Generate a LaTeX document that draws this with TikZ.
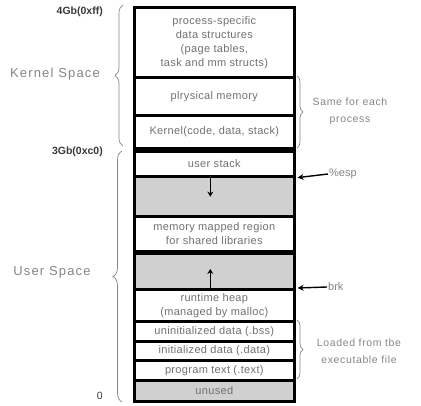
\documentclass[tikz,border=0pt]{standalone}
\usepackage{fontspec}
\setmainfont{Liberation Sans}
\usetikzlibrary{arrows.meta,decorations.pathreplacing}
\definecolor{segtext}{HTML}{707070}
\definecolor{sidetext}{HTML}{858585}
\definecolor{addrtext}{HTML}{3A3A3A}
\definecolor{gapfill}{HTML}{D0D0D0}
\begin{document}
\begin{tikzpicture}[x=1pt,y=-1pt,
  seg/.style={draw=black, line width=2.6pt, minimum width=160pt, inner sep=0pt,
    anchor=north west, align=center, text=segtext,
    font=\fontsize{11}{14}\selectfont\addfontfeatures{LetterSpace=3}},
  gap/.style={seg, fill=gapfill},
  addr/.style={anchor=east, inner sep=0pt, text=addrtext, font=\bfseries\fontsize{10.5}{12}\selectfont},
  region/.style={anchor=center, text=sidetext,
    font=\fontsize{13}{15}\selectfont\addfontfeatures{LetterSpace=9}},
  note/.style={anchor=center, align=center, text=sidetext,
    font=\fontsize{10.5}{17}\selectfont\addfontfeatures{LetterSpace=6}},
  reg/.style={anchor=west, inner sep=1pt, text=sidetext, font=\fontsize{11}{13}\selectfont},
  sbrace/.style={draw=sidetext, line width=0.7pt, decorate},
  ptr/.style={draw=black, line width=1.4pt, -{Stealth[length=6pt,width=6pt]}},
  inarrow/.style={draw=black, line width=1.6pt, -{Stealth[length=5pt,width=6pt]}}]
\useasboundingbox (0,0) rectangle (421,406);

% address-space segments, top to bottom
\node[seg, minimum height=70pt]  (ps)     at (133,6)   {process-specific\\data structures\\(page tables,\\task and mm structs)};
\node[seg, minimum height=38pt]  (phys)   at (133,76)  {plrysical memory};
\node[seg, minimum height=33pt]  (kern)   at (133,114) {Kernel(code, data, stack)};
\node[seg, minimum height=25pt]  (ustack) at (133,150) {user stack};
\node[gap, minimum height=40pt]  (gap1)   at (133,175) {};
\node[seg, minimum height=35pt]  (mmap)   at (133,215) {memory mapped region\\for shared libraries};
\node[gap, minimum height=38pt]  (gap2)   at (133,250) {};
\node[seg, minimum height=32pt]  (heap)   at (133,288) {runtime heap\\(managed by malloc)};
\node[seg, minimum height=20pt]  (bss)    at (133,320) {uninitialized data (.bss)};
\node[seg, minimum height=19pt]  (data)   at (133,340) {initialized data (.data)};
\node[seg, minimum height=20pt]  (text)   at (133,359) {program text (.text)};
\node[gap, minimum height=21pt]  (unused) at (133,379) {unused};

% heavier separators
\draw[line width=6pt] (kern.south west) -- (kern.south east);
\draw[line width=4.5pt] (mmap.south west) -- (mmap.south east);

% growth directions of stack and heap
\draw[inarrow] ([xshift=-4pt]ustack.south) -- ++(0,19);
\draw[inarrow] ([xshift=-4pt]heap.north) -- ++(0,-19);

% addresses
\node[addr] (a4g) at (103,12)  {4Gb(0xff)};
\node[addr] (a3g) at (103,152) {3Gb(0xc0)};
\node[anchor=east, inner sep=0pt, text=addrtext, font=\fontsize{10.5}{12}\selectfont] (a0) at (103,396) {0};

% kernel and user regions
\draw[sbrace, decoration={brace, amplitude=8pt}] (123,146) -- (123,5);
\node[region] (kspace) at (55,74) {Kernel Space};
\draw[sbrace, decoration={brace, amplitude=9pt}] (122,402) -- (122,151);
\node[region] (uspace) at (52,272) {User Space};

% right-hand notes
\draw[sbrace, decoration={brace, amplitude=6pt}] (297,76) -- (297,148);
\node[note] (same) at (350,111) {Same for each\\process};
\draw[sbrace, decoration={brace, amplitude=6pt}] (297,320) -- (297,379);
\node[note] (loaded) at (359,351) {Loaded from tbe\\executable file};

% register pointers
\node[reg] (esp) at (328,174) {\%esp};
\draw[ptr] (esp.west) -- ([xshift=2pt]ustack.south east);
\node[reg] (brk) at (327,287) {brk};
\draw[ptr] (brk.west) -- ([xshift=2pt]heap.north east);
\end{tikzpicture}
\end{document}
